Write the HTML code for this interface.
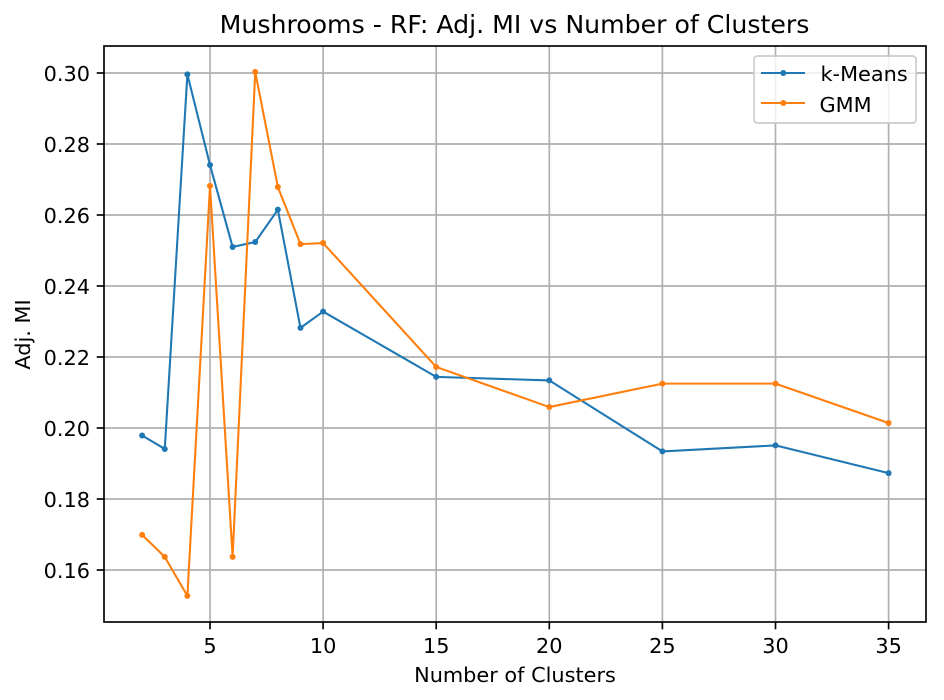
<!DOCTYPE html>
<html lang="en">
<head>
<meta charset="utf-8">
<title>Mushrooms - RF: Adj. MI vs Number of Clusters</title>
<style>
html,body{margin:0;padding:0;background:#fff;}
svg{display:block;font-family:"DejaVu Sans","Liberation Sans",sans-serif;}
</style>
</head>
<body>
<svg id="chart" xmlns="http://www.w3.org/2000/svg" width="944" height="700" viewBox="0 0 944 700"></svg>
<script>
const clusters = [2, 3, 4, 5, 6, 7, 8, 9, 10, 15, 20, 25, 30, 35];
const kMeansValues = [0.1979, 0.1941, 0.2996, 0.2741, 0.2510, 0.2524, 0.2615, 0.2282, 0.2328, 0.2144, 0.2134, 0.1934, 0.1951, 0.1873];
const gmmValues = [0.1699, 0.1637, 0.1527, 0.2682, 0.1637, 0.3003, 0.2679, 0.2518, 0.2521, 0.2172, 0.2059, 0.2125, 0.2125, 0.2014];
const xTicks = [5, 10, 15, 20, 25, 30, 35];
const yTicks = [0.16, 0.18, 0.20, 0.22, 0.24, 0.26, 0.28, 0.30];
const seriesNames = ['k-Means', 'GMM'];

const svg = document.getElementById('chart');
const NS = 'http://www.w3.org/2000/svg';
const plot = {left: 104, right: 926, top: 46, bottom: 622};
const xScale = v => 210 + (v - 5) * 22.62;
const yScale = v => 570 - (v - 0.16) * 3550;

function make(tag, attrs, parent) {
  const el = document.createElementNS(NS, tag);
  for (const k in attrs) el.setAttribute(k, attrs[k]);
  (parent || svg).appendChild(el);
  return el;
}

const bg = make('rect', {x: plot.left, y: plot.top, width: plot.right - plot.left, height: plot.bottom - plot.top, fill: '#fff'});



xTicks.forEach(t => {
  const x = xScale(t);
  const grid = make('line', {x1: x, x2: x, y1: plot.top, y2: plot.bottom, stroke: '#b0b0b0', 'stroke-width': 1.67});
  
  
  const tick = make('line', {x1: x, x2: x, y1: plot.bottom, y2: plot.bottom + 7.3, stroke: '#000', 'stroke-width': 1.67});
  
  
  const label = make('text', {x: x, y: 653, 'text-anchor': 'middle', 'font-size': 20.83, fill: '#000'});
  label.textContent = String(t);
  
  
});

yTicks.forEach(t => {
  const y = yScale(t);
  const grid = make('line', {x1: plot.left, x2: plot.right, y1: y, y2: y, stroke: '#b0b0b0', 'stroke-width': 1.67});
  
  
  const tick = make('line', {x1: plot.left - 7.3, x2: plot.left, y1: y, y2: y, stroke: '#000', 'stroke-width': 1.67});
  
  
  const label = make('text', {x: 90, y: y + 8, 'text-anchor': 'end', 'font-size': 20.83, fill: '#000'});
  label.textContent = t.toFixed(2);
  
  
});

function drawSeries(values, color, name) {
  const g = make('g', {});
  
  
  const pts = values.map((v, i) => xScale(clusters[i]).toFixed(2) + ',' + yScale(v).toFixed(2)).join(' ');
  const line = make('polyline', {points: pts, fill: 'none', stroke: color, 'stroke-width': 2.08, 'stroke-linejoin': 'round'}, g);
  
  
  values.forEach((v, i) => {
    const dot = make('circle', {cx: xScale(clusters[i]), cy: yScale(v), r: 3, fill: color}, g);
    
    
  });
}
drawSeries(kMeansValues, '#1f77b4', 'k-means-series');
drawSeries(gmmValues, '#ff7f0e', 'gmm-series');

const frame = make('rect', {x: plot.left, y: plot.top, width: plot.right - plot.left, height: plot.bottom - plot.top, fill: 'none', stroke: '#000', 'stroke-width': 1.67});



const title = make('text', {x: 514.5, y: 33, 'text-anchor': 'middle', 'font-size': 25.2, fill: '#000'});
title.textContent = 'Mushrooms - RF: Adj. MI vs Number of Clusters';



const xTitle = make('text', {x: 515, y: 682, 'text-anchor': 'middle', 'font-size': 20.83, fill: '#000'});
xTitle.textContent = 'Number of Clusters';



const yTitle = make('text', {x: 0, y: 0, 'text-anchor': 'middle', 'font-size': 20.83, fill: '#000', transform: 'translate(30 334.5) rotate(-90)'});
yTitle.textContent = 'Adj. MI';



const legend = make('g', {});


const legendBox = make('rect', {x: 754, y: 56, width: 162, height: 67, rx: 3.5, ry: 3.5, fill: '#fff', 'fill-opacity': 0.8, stroke: '#ccc', 'stroke-width': 1.67}, legend);


const legendColors = ['#1f77b4', '#ff7f0e'];
const legendY = [73, 103];
const legendBase = [81, 112];
const legendTextX = [820.5, 819.5];
seriesNames.forEach((n, i) => {
  const entry = make('g', {}, legend);
  
  
  const l = make('line', {x1: 761, x2: 805, y1: legendY[i], y2: legendY[i], stroke: legendColors[i], 'stroke-width': 2.08}, entry);
  
  
  const c = make('circle', {cx: 783.3, cy: legendY[i], r: 3, fill: legendColors[i]}, entry);
  
  
  const t = make('text', {x: legendTextX[i], y: legendBase[i], 'font-size': 20.83, fill: '#000'}, entry);
  t.textContent = n;
  
  
});
</script>
</body>
</html>
